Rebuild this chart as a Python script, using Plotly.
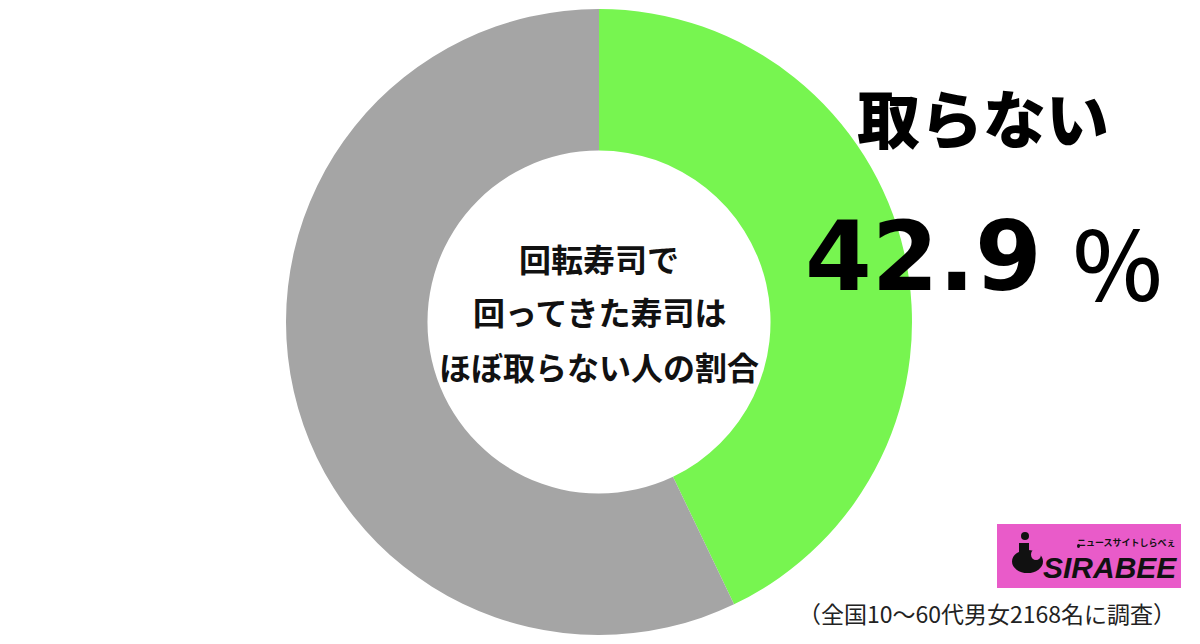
import plotly.graph_objects as go

# ---- data ----
labels = ["取らない", "その他"]
values = [42.9, 57.1]
colors = ["#77F550", "#A5A5A5"]
center_lines = ["回転寿司で", "回ってきた寿司は", "ほぼ取らない人の割合"]
highlight_label = "取らない"
highlight_value = "42.9"
footnote = "（全国10〜60代男女2168名に調査）"

W, H = 1200, 644
OFF = 8  # page body margin
def px(x):
    return (x - OFF) / W
def py(y):
    return 1 - (y - OFF) / H

cx, cy, r = 599, 322, 313

fig = go.Figure(go.Pie(
    labels=labels, values=values,
    marker=dict(colors=colors, line=dict(width=0)),
    hole=0.548, sort=False, direction="clockwise", rotation=0,
    textinfo="none", hoverinfo="none", showlegend=False,
    domain=dict(x=[px(cx - r), px(cx + r)], y=[max(0, py(cy + r)), min(1, py(cy - r))]),
))

ann = []
jp = "Noto Sans CJK JP"
# centre text
for line, y in zip(center_lines, [258, 311, 366]):
    ann.append(dict(text=line, x=px(599), y=py(y), xref="paper", yref="paper",
                    xanchor="center", yanchor="middle", showarrow=False,
                    font=dict(family=jp, size=32, color="#111111", weight=700)))
# right label
ann.append(dict(text=highlight_label, x=px(983), y=py(116), xref="paper", yref="paper",
                xanchor="center", yanchor="middle", showarrow=False,
                font=dict(family=jp, size=63, color="#000000", weight=900)))
ann.append(dict(text=highlight_value, x=px(923), y=py(257), xref="paper", yref="paper",
                xanchor="center", yanchor="middle", showarrow=False,
                font=dict(family="DejaVu Sans", size=96, color="#000000", weight=700)))
ann.append(dict(text="％", x=px(1117), y=py(261), xref="paper", yref="paper",
                xanchor="center", yanchor="middle", showarrow=False,
                font=dict(family=jp, size=95, color="#000000", weight=500)))
# footnote
ann.append(dict(text=footnote, x=px(1178), y=py(613), xref="paper", yref="paper",
                xanchor="right", yanchor="middle", showarrow=False,
                font=dict(family=jp, size=23, color="#222222", weight=400)))
# logo texts
ann.append(dict(text="SIRABEE", x=px(1110), y=py(567), xref="paper", yref="paper",
                xanchor="center", yanchor="middle", showarrow=False,
                font=dict(family="Liberation Sans", size=30, color="#111111", weight=900,
                          style="italic")))
ann.append(dict(text="ニュースサイトしらべぇ", x=px(1126), y=py(542), xref="paper", yref="paper",
                xanchor="center", yanchor="middle", showarrow=False,
                font=dict(family=jp, size=9, color="#111111", weight=700)))

def rect_like(kind, x0, y0, x1, y1, color):
    return dict(type=kind, xref="paper", yref="paper", x0=px(x0), x1=px(x1),
                y0=py(y1), y1=py(y0), fillcolor=color, line=dict(width=0))

pink = "#E95BC9"
shapes = [
    dict(rect_like("rect", 997, 524, 1181, 588, pink), layer="below"),
    rect_like("circle", 1021, 532, 1029, 540, "#111111"),   # head
    rect_like("circle", 1012, 550, 1043, 573, "#111111"),   # bowl
    rect_like("rect", 1019, 543, 1029, 558, "#111111"),     # neck
    rect_like("circle", 1031, 549, 1041, 560, pink),        # notch
    rect_like("circle", 1077, 544, 1080, 548, "#111111"),   # small drop
]

fig.update_layout(
    width=W, height=H, margin=dict(l=0, r=0, t=0, b=0),
    paper_bgcolor="white", plot_bgcolor="white",
    annotations=ann, shapes=shapes,
)
fig.write_html("out.html")
